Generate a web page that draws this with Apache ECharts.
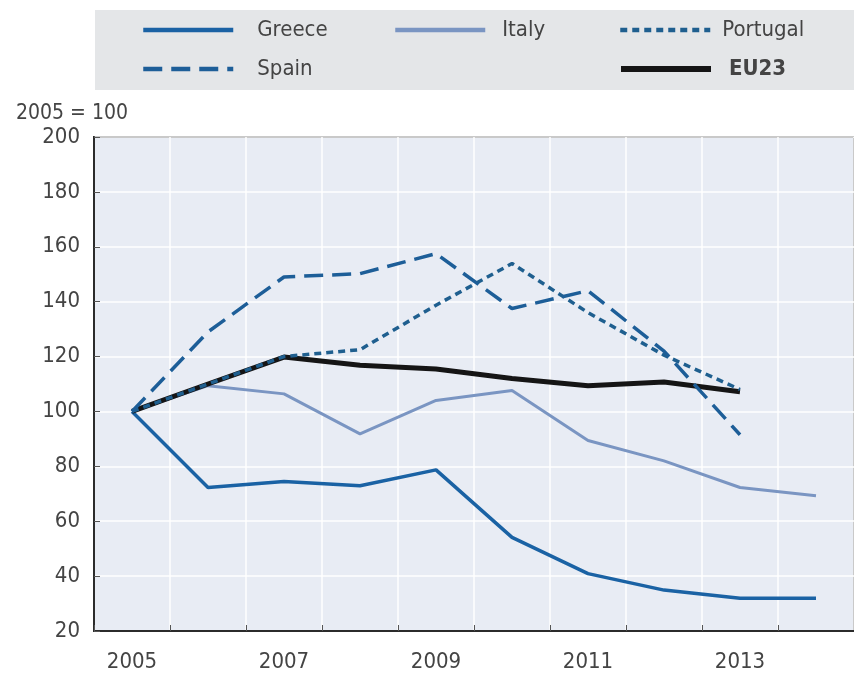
<!DOCTYPE html>
<html>
<head>
<meta charset="utf-8">
<script src="https://cdn.jsdelivr.net/npm/echarts@6/dist/echarts.min.js"></script>
<style>
html,body{margin:0;padding:0;background:#fff;}
#chart{width:854px;height:673px;}
</style>
</head>
<body>
<div id="chart"></div>
<script>
const years = ['2005','2006','2007','2008','2009','2010','2011','2012','2013','2014'];
const greece   = [100, 72.3, 74.5, 72.9, 78.7, 54.1, 40.9, 34.9, 31.9, 31.9];
const italy    = [100, 109.4, 106.4, 91.8, 104, 107.6, 89.4, 82, 72.3, 69.3];
const portugal = [100, 110, 120, 122.5, 138.7, 153.9, 136, 120.5, 108, null];
const spain    = [100, 129, 149, 150.2, 157.5, 137.5, 144, 122, 91.5, null];
const eu23     = [100, 110, 119.8, 116.8, 115.5, 112, 109.4, 110.7, 107.2, null];
const yTicks = [20, 200, 20]; // min, max, interval
const yTitle = '2005 = 100';

const FONT = "'Liberation Sans Narrow', 'DejaVu Sans Condensed', 'Liberation Sans', sans-serif";
const chart = echarts.init(document.getElementById('chart'), null, {renderer:'canvas'});

function legendAt(name, left, top, pad, lw){
  return {
    data:[name], left:left, top:top, orient:'horizontal',
    itemWidth:90, itemHeight:14, padding:0,
    itemStyle:{opacity:0},
    lineStyle:{width:lw},
    textStyle:{fontFamily:FONT, fontSize:22, color:'#444444', padding:[0,0,0,pad],
      fontWeight: name==='EU23' ? 'bold' : 'normal'},
    selectedMode:false
  };
}

chart.setOption({
  animation:false,
  backgroundColor:'#ffffff',
  graphic:[
    {type:'rect', shape:{x:95, y:10, width:770, height:80}, style:{fill:'#e4e6e8'}, z:-10},
    {type:'text', left:16, top:103, style:{text:yTitle, font:'21px ' + FONT, fill:'#444444'}}
  ],
  legend:[
    legendAt('Greece', 141, 19, 19, 4.5),
    legendAt('Italy', 393, 19, 12, 4.5),
    legendAt('Portugal', 618, 19, 7, 4.5),
    legendAt('Spain', 141, 58, 19, 4.5),
    legendAt('EU23', 618, 58, 13, 6)
  ],
  grid:{left:94, top:137, width:768, height:494, show:true, backgroundColor:'#e8ecf4',
        borderColor:'#2b2b2b', borderWidth:2, containLabel:false},
  xAxis:{
    type:'category', data:years, boundaryGap:true,
    axisLine:{show:true, lineStyle:{color:'#2b2b2b', width:2}},
    axisTick:{show:true, inside:true, length:6, interval:0, lineStyle:{color:'#555'}},
    axisLabel:{interval:1, fontFamily:FONT, fontSize:22, color:'#444444', margin:20},
    splitLine:{show:true, interval:0, lineStyle:{color:'#ffffff', width:1.5}}
  },
  yAxis:{
    type:'value', min:yTicks[0], max:yTicks[1], interval:yTicks[2],
    axisLine:{show:true, lineStyle:{color:'#2b2b2b', width:2}},
    axisTick:{show:true, inside:true, length:6, lineStyle:{color:'#555'}},
    axisLabel:{fontFamily:FONT, fontSize:22, color:'#444444', margin:14},
    splitLine:{show:true, lineStyle:{color:'#ffffff', width:1.5}}
  },
  series:[
    {name:'Italy', type:'line', data:italy, symbol:'none', lineStyle:{color:'#7a95c2', width:3}, itemStyle:{color:'#7a95c2'}, z:2},
    {name:'Greece', type:'line', data:greece, symbol:'none', lineStyle:{color:'#1a62a4', width:3.5}, itemStyle:{color:'#1a62a4'}, z:3},
    {name:'EU23', type:'line', data:eu23, symbol:'none', lineStyle:{color:'#151515', width:5}, itemStyle:{color:'#151515'}, z:4},
    {name:'Portugal', type:'line', data:portugal, symbol:'none', lineStyle:{color:'#1f5f8f', width:3.5, type:[7,5]}, itemStyle:{color:'#1f5f8f'}, z:5},
    {name:'Spain', type:'line', data:spain, symbol:'none', lineStyle:{color:'#1d5e98', width:3.5, type:[19,9]}, itemStyle:{color:'#1d5e98'}, z:6}
  ]
});
</script>
</body>
</html>
